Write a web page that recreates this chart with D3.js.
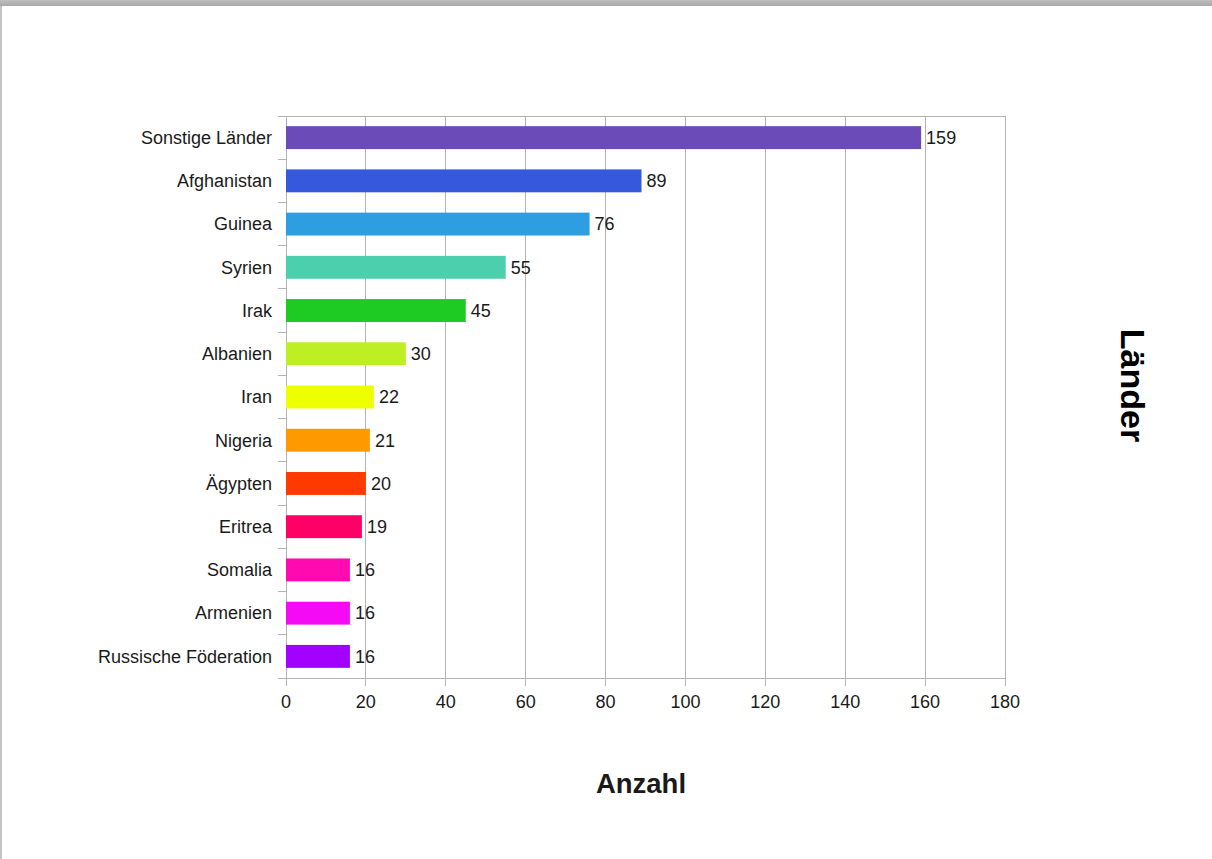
<!DOCTYPE html>
<html><head><meta charset="utf-8">
<script src="https://cdn.jsdelivr.net/npm/d3@7"></script>
<style>
html,body{margin:0;padding:0;background:#fff;}
svg{display:block;}
</style></head>
<body>
<svg id="c" width="1212" height="859"></svg>
<script>
const categories = ["Sonstige Länder","Afghanistan","Guinea","Syrien","Irak","Albanien","Iran","Nigeria","Ägypten","Eritrea","Somalia","Armenien","Russische Föderation"];
const values = [159,89,76,55,45,30,22,21,20,19,16,16,16];
const colors = ["#6a4bb8","#3558dd","#2d9fe0","#4ccfad","#1ecb22","#bdef22","#eeff00","#ff9900","#ff3a00","#ff0066","#ff0ab0","#f50af5","#a200ff"];
const xTicks = [0,20,40,60,80,100,120,140,160,180];
const xTitle = "Anzahl";
const yTitle = "Länder";

const svg = d3.select("#c");
const W = 1212, H = 859;
const font = "'Liberation Sans', Arial, sans-serif";

// page frame
const defs = svg.append("defs");
const g1 = defs.append("linearGradient").attr("id","topg").attr("x1",0).attr("x2",0).attr("y1",0).attr("y2",1);
g1.append("stop").attr("offset","0%").attr("stop-color","#bdbdbd");
g1.append("stop").attr("offset","100%").attr("stop-color","#a8a8a8");
svg.append("rect").attr("x",0).attr("y",0).attr("width",W).attr("height",6).attr("fill","url(#topg)");
svg.append("rect").attr("x",0).attr("y",6).attr("width",2).attr("height",H-6).attr("fill","#c4c4c4");

const pL = 286, pR = 1005, pT = 116, pB = 678;
const x = d3.scaleLinear().domain([0,180]).range([pL,pR]);
const y = d3.scaleBand().domain(categories).range([pT,pB]).paddingInner(0.47).paddingOuter(0.235);
const yb = d3.scaleBand().domain(categories).range([pT,pB]).padding(0);

const grid = "#b3b3b3";
// grid lines
svg.append("g").selectAll("line").data(xTicks).join("line")
  .attr("x1",d=>x(d)).attr("x2",d=>x(d)).attr("y1",pT).attr("y2",pB+8)
  .attr("stroke",grid).attr("stroke-width",1).attr("shape-rendering","crispEdges");
// plot border
svg.append("rect").attr("x",pL).attr("y",pT).attr("width",pR-pL).attr("height",pB-pT)
  .attr("fill","none").attr("stroke",grid).attr("shape-rendering","crispEdges");
// y ticks at band boundaries
const bounds = categories.map(c=>yb(c)).concat([pB]);
svg.append("g").selectAll("line").data(bounds).join("line")
  .attr("x1",pL-8).attr("x2",pL).attr("y1",d=>d).attr("y2",d=>d)
  .attr("stroke",grid).attr("shape-rendering","crispEdges");

// bars
svg.append("g").selectAll("rect").data(values).join("rect")
  .attr("x",x(0)).attr("y",(d,i)=>y(categories[i]))
  .attr("width",d=>x(d)-x(0)).attr("height",y.bandwidth())
  .attr("fill",(d,i)=>colors[i]);

// value labels
svg.append("g").selectAll("text").data(values).join("text")
  .attr("x",d=>x(d)+5).attr("y",(d,i)=>y(categories[i])+y.bandwidth()/2)
  .attr("dy","0.35em").attr("font-family",font).attr("font-size",18).attr("fill","#1a1a1a")
  .text(d=>d);

// category labels
svg.append("g").selectAll("text").data(categories).join("text")
  .attr("x",pL-14).attr("y",d=>y(d)+y.bandwidth()/2)
  .attr("dy","0.35em").attr("text-anchor","end").attr("font-family",font).attr("font-size",18).attr("fill","#1a1a1a")
  .text(d=>d);

// x tick labels
svg.append("g").selectAll("text").data(xTicks).join("text")
  .attr("x",d=>x(d)).attr("y",708).attr("text-anchor","middle")
  .attr("font-family",font).attr("font-size",18).attr("fill","#1a1a1a")
  .text(d=>d);

// axis titles
svg.append("text").attr("x",641).attr("y",793).attr("text-anchor","middle")
  .attr("font-family",font).attr("font-size",27.5).attr("font-weight","bold").attr("fill","#1a1a1a").text(xTitle);
svg.append("text").attr("transform","translate(1121,385.5) rotate(90)").attr("text-anchor","middle")
  .attr("font-family",font).attr("font-size",34).attr("font-weight","bold").attr("fill","#000").text(yTitle);
</script>
</body></html>
